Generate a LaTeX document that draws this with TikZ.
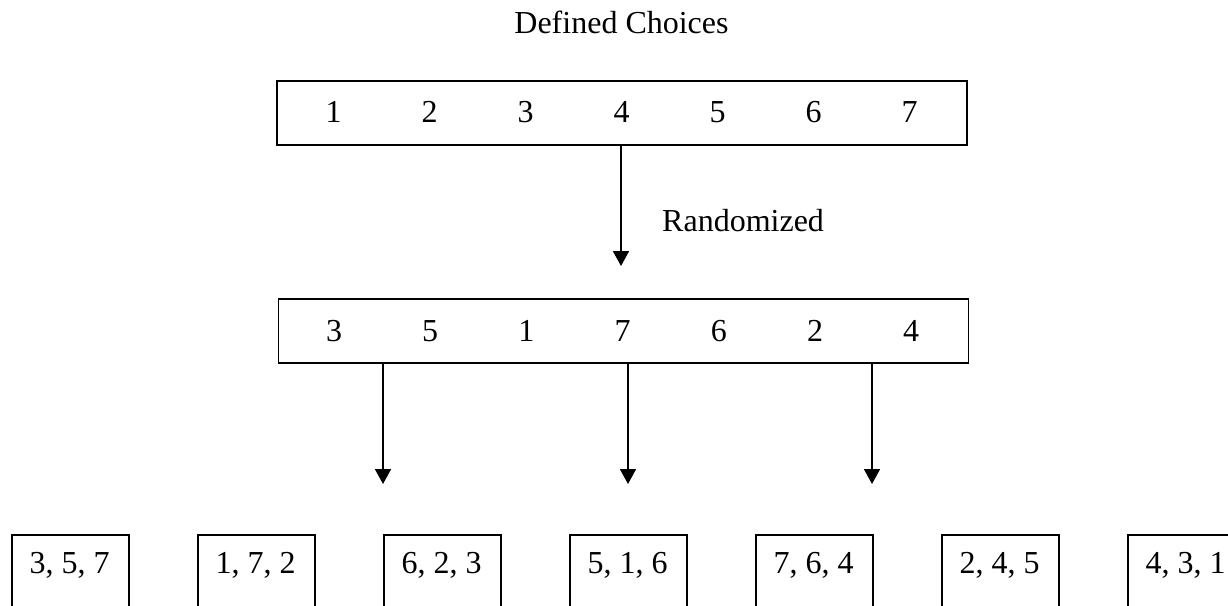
\documentclass[tikz,border=0pt]{standalone}
\usepackage{fontspec}
\setmainfont{Liberation Serif}
\usetikzlibrary{arrows.meta}

\begin{document}
\begin{tikzpicture}[x=1pt, y=-1pt,
  every node/.style={font=\fontsize{32}{38}\selectfont, inner sep=0pt},
  strip/.style={draw, line width=1.8pt, minimum width=690pt, minimum height=64pt},
  slot/.style={draw, line width=1.8pt, minimum width=117pt, minimum height=110pt, anchor=north west},
  num/.style={anchor=base},
  flow/.style={line width=1.8pt, -{Triangle[width=16pt,length=15pt]}}]
  \useasboundingbox (0,0) rectangle (1228,605);
  \clip (0,0) rectangle (1228,605);

  % heading
  \node[num] (title) at (621.5,33) {Defined Choices};

  % ordered choices
  \node[strip] (top) at (622,113) {};
  \foreach \v [count=\i] in {1,...,7}
    \node[num] (t\i) at ({333.5+96*(\i-1)},122) {\v};

  % shuffle step
  \coordinate (r) at (621,266);
  \draw[flow] (top.south -| r) -- (r);
  \node[num, anchor=base west] (rnd) at (662,231) {Randomized};

  % shuffled order
  \node[strip] (mid) at (623.5,331) {};
  \foreach \v [count=\i] in {3,5,1,7,6,2,4}
    \node[num] (m\i) at ({334+96.2*(\i-1)},341) {\v};

  % drawing from the shuffled order
  \coordinate (b1) at (383,484);
  \coordinate (b2) at (628,484);
  \coordinate (b3) at (872,484);
  \foreach \k in {1,2,3}
    \draw[flow] (mid.south -| b\k) -- (b\k);

  % resulting subsets
  \foreach \s [count=\i] in {{3, 5, 7},{1, 7, 2},{6, 2, 3},{5, 1, 6},{7, 6, 4},{2, 4, 5},{4, 3, 1}} {
    \node[slot] (s\i) at ({11+186*(\i-1)},534) {};
    \node[num] (st\i) at ({69.5+186*(\i-1)},573) {\s};
  }
\end{tikzpicture}
\end{document}
